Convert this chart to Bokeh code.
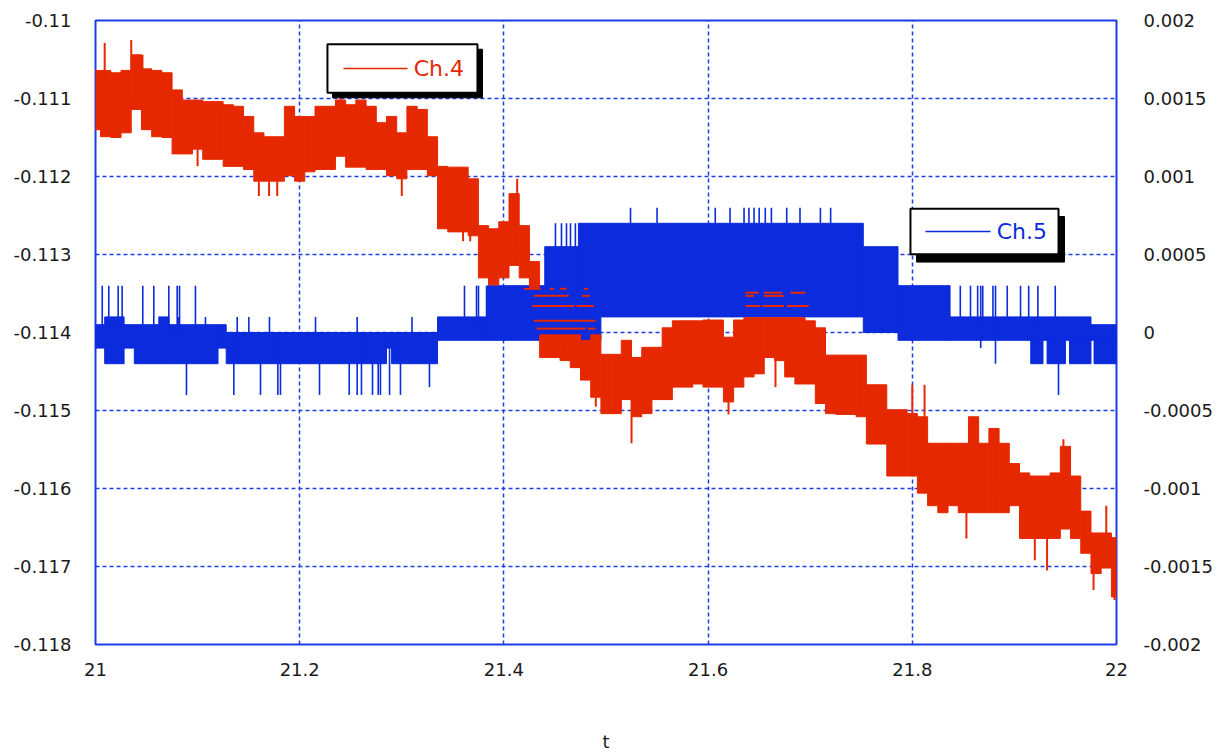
from bokeh.plotting import figure
from bokeh.models import Range1d, LinearAxis, FixedTicker
from bokeh.embed import file_html
from bokeh.resources import INLINE
from bokeh.core.properties import value

# ---------------- data ----------------
t_red = [21.00, 21.01, 21.02, 21.03, 21.04, 21.05, 21.06, 21.07, 21.08, 21.09,
         21.10, 21.11, 21.12, 21.13, 21.14, 21.15, 21.16, 21.17, 21.18, 21.19,
         21.20, 21.21, 21.22, 21.23, 21.24, 21.25, 21.26, 21.27, 21.28, 21.29,
         21.30, 21.31, 21.32, 21.33, 21.34, 21.35, 21.36, 21.37, 21.38, 21.39,
         21.40, 21.41, 21.42, 21.43, 21.44, 21.45, 21.46, 21.47, 21.48, 21.49,
         21.50, 21.51, 21.52, 21.53, 21.54, 21.55, 21.56, 21.57, 21.58, 21.59,
         21.60, 21.61, 21.62, 21.63, 21.64, 21.65, 21.66, 21.67, 21.68, 21.69,
         21.70, 21.71, 21.72, 21.73, 21.74, 21.75, 21.76, 21.77, 21.78, 21.79,
         21.80, 21.81, 21.82, 21.83, 21.84, 21.85, 21.86, 21.87, 21.88, 21.89,
         21.90, 21.91, 21.92, 21.93, 21.94, 21.95, 21.96, 21.97, 21.98, 21.99,
         22.00]

ch4_hi = [-0.11064, -0.11064, -0.11067, -0.11064, -0.11044, -0.11062, -0.11064, -0.11067, -0.11089, -0.11102,
          -0.11102, -0.11104, -0.11104, -0.11108, -0.11110, -0.11123, -0.11144, -0.11149, -0.11149, -0.11110,
          -0.11123, -0.11123, -0.11110, -0.11110, -0.11102, -0.11108, -0.11102, -0.11110, -0.11131, -0.11123,
          -0.11144, -0.11110, -0.11114, -0.11149, -0.11187, -0.11188, -0.11188, -0.11203, -0.11263, -0.11267,
          -0.11258, -0.11222, -0.11263, -0.11309, -0.11403, -0.11403, -0.11403, -0.11403, -0.11410, -0.11403,
          -0.11428, -0.11428, -0.11410, -0.11432, -0.11419, -0.11419, -0.11394, -0.11385, -0.11385, -0.11385,
          -0.11384, -0.11384, -0.11406, -0.11384, -0.11381, -0.11381, -0.11381, -0.11381, -0.11381, -0.11381,
          -0.11385, -0.11394, -0.11429, -0.11429, -0.11429, -0.11429, -0.11467, -0.11467, -0.11499, -0.11499,
          -0.11504, -0.11508, -0.11542, -0.11542, -0.11542, -0.11542, -0.11508, -0.11542, -0.11523, -0.11542,
          -0.11568, -0.11580, -0.11584, -0.11584, -0.11580, -0.11546, -0.11584, -0.11629, -0.11657, -0.11657,
          -0.11663]

ch4_lo = [-0.11140, -0.11149, -0.11150, -0.11144, -0.11114, -0.11140, -0.11149, -0.11150, -0.11171, -0.11171,
          -0.11165, -0.11178, -0.11178, -0.11187, -0.11187, -0.11191, -0.11206, -0.11206, -0.11206, -0.11199,
          -0.11206, -0.11194, -0.11191, -0.11191, -0.11174, -0.11188, -0.11188, -0.11191, -0.11191, -0.11199,
          -0.11203, -0.11191, -0.11191, -0.11199, -0.11267, -0.11271, -0.11271, -0.11276, -0.11330, -0.11339,
          -0.11330, -0.11314, -0.11330, -0.11342, -0.11432, -0.11432, -0.11436, -0.11445, -0.11461, -0.11483,
          -0.11504, -0.11504, -0.11486, -0.11508, -0.11504, -0.11486, -0.11486, -0.11470, -0.11470, -0.11466,
          -0.11470, -0.11470, -0.11489, -0.11470, -0.11457, -0.11453, -0.11432, -0.11436, -0.11457, -0.11466,
          -0.11466, -0.11491, -0.11504, -0.11505, -0.11505, -0.11508, -0.11543, -0.11543, -0.11584, -0.11584,
          -0.11584, -0.11606, -0.11622, -0.11631, -0.11622, -0.11631, -0.11631, -0.11631, -0.11631, -0.11631,
          -0.11622, -0.11664, -0.11664, -0.11664, -0.11664, -0.11652, -0.11664, -0.11683, -0.11709, -0.11702,
          -0.11739]

# Ch.4 isolated spikes: time, start value, end value
ch4_spike_t = [21.009, 21.035, 21.041, 21.046, 21.240, 21.413, 21.800, 21.812, 21.948, 21.990,
               21.100, 21.160, 21.170, 21.178, 21.300, 21.360, 21.367, 21.490, 21.525, 21.620,
               21.666, 21.853, 21.920, 21.932, 21.9775, 21.998]
ch4_spike_from = [-0.11064, -0.11064, -0.11064, -0.11064, -0.11110, -0.11250, -0.11504, -0.11508, -0.11560, -0.11657,
                  -0.11165, -0.11206, -0.11206, -0.11206, -0.11203, -0.11271, -0.11271, -0.11483, -0.11486, -0.11489,
                  -0.11432, -0.11631, -0.11664, -0.11664, -0.11700, -0.11730]
ch4_spike_to = [-0.11029, -0.11025, -0.11044, -0.11044, -0.11099, -0.11203, -0.11467, -0.11467, -0.11537, -0.11622,
                -0.11187, -0.11225, -0.11225, -0.11225, -0.11225, -0.11283, -0.11283, -0.11495, -0.11542, -0.11505,
                -0.11470, -0.11664, -0.11692, -0.11705, -0.11730, -0.11743]

# Ch.4 short horizontal strokes over Ch.5 band
ch4_dash_t0 = [21.4195, 21.4450, 21.4548, 21.4783, 21.4293, 21.4767, 21.4277, 21.4711, 21.4293, 21.4319, 21.4587, 21.4822,
               21.6366, 21.6546, 21.6807, 21.6366, 21.6546, 21.6366, 21.6530, 21.6768]
ch4_dash_t1 = [21.4359, 21.4489, 21.4613, 21.4822, 21.4636, 21.4841, 21.4692, 21.4881, 21.4897, 21.4587, 21.4799, 21.4897,
               21.6497, 21.6726, 21.6954, 21.6448, 21.6742, 21.6513, 21.6742, 21.6986]
ch4_dash_v = [-0.11344, -0.11344, -0.11344, -0.11344, -0.11353, -0.11353, -0.11366, -0.11366, -0.11385, -0.11395, -0.11395, -0.11395,
              -0.11349, -0.11349, -0.11349, -0.11353, -0.11353, -0.11366, -0.11366, -0.11366]

# Ch.5 quantised band pieces: start, end, upper level, lower level
ch5_t0 = [21.000, 21.009, 21.028, 21.038, 21.062, 21.072, 21.120, 21.128, 21.285, 21.290, 21.335, 21.384,
          21.440, 21.473, 21.495, 21.752, 21.786, 21.837, 21.975,
          21.916, 21.932, 21.954, 21.978]
ch5_t1 = [21.009, 21.028, 21.038, 21.062, 21.072, 21.120, 21.128, 21.285, 21.290, 21.335, 21.384, 21.440,
          21.473, 21.495, 21.752, 21.786, 21.837, 21.975, 22.000,
          21.928, 21.950, 21.975, 22.000]
ch5_hi = [0.00005, 0.0001, 0.00005, 0.00005, 0.0001, 0.00005, 0.00005, 0.0, 0.0, 0.0, 0.0001, 0.0003,
          0.00055, 0.0007, 0.0007, 0.00055, 0.0003, 0.0001, 0.00005,
          -0.00005, -0.00005, -0.00005, -0.00005]
ch5_lo = [-0.0001, -0.0002, -0.0001, -0.0002, -0.0002, -0.0002, -0.0001, -0.0002, -0.0001, -0.0002, -0.00005, -0.00005,
          -0.00005, -0.00005, 0.0001, 0.0, -0.00005, -0.00005, -0.00005,
          -0.0002, -0.0002, -0.0002, -0.0002]

# Ch.5 isolated spikes: time, start level, end level
ch5_spike_t = [21.0066, 21.0130, 21.0222, 21.0261, 21.0463, 21.0571, 21.0718, 21.0800, 21.0823, 21.0979,
               21.3614, 21.3732, 21.3751, 21.3830,
               21.847, 21.857, 21.864, 21.869, 21.879, 21.893, 21.906, 21.914, 21.923, 21.940,
               21.0816, 21.1077, 21.1388, 21.1502, 21.1704, 21.2155, 21.2563, 21.3100,
               21.0891, 21.1355, 21.1616, 21.1786, 21.1812, 21.2194, 21.2485, 21.2563, 21.2605, 21.2713,
               21.2769, 21.2791, 21.2880, 21.2987, 21.3271, 21.9432, 21.8815, 21.867,
               21.4505, 21.4564, 21.4613, 21.4652, 21.4700, 21.775, 21.779,
               21.5240, 21.5500, 21.6070, 21.6215, 21.6352, 21.6400, 21.6450, 21.6500, 21.6560, 21.6620,
               21.6770, 21.6900, 21.7100, 21.7200, 21.7300, 21.7450]
ch5_spike_from = [0.0] * 10 + [0.0] * 4 + [0.0] * 10 + [0.0] * 8 + [0.0] * 16 + [0.0003] * 7 + [0.0007] * 16
ch5_spike_to = [0.0003] * 10 + [0.0003] * 4 + [0.0003] * 10 + [0.0001] * 8 + \
               [-0.0004] * 14 + [-0.00035, -0.0004, -0.0002, -0.0001] + [0.0007] * 7 + [0.0008] * 16

# axes
x_ticks = [21.0, 21.2, 21.4, 21.6, 21.8, 22.0]
x_labels = ["21", "21.2", "21.4", "21.6", "21.8", "22"]
yl_ticks = [-0.118, -0.117, -0.116, -0.115, -0.114, -0.113, -0.112, -0.111, -0.110]
yl_labels = ["-0.118", "-0.117", "-0.116", "-0.115", "-0.114", "-0.113", "-0.112", "-0.111", "-0.11"]
yr_ticks = [-0.002, -0.0015, -0.001, -0.0005, 0.0, 0.0005, 0.001, 0.0015, 0.002]
yr_labels = ["-0.002", "-0.0015", "-0.001", "-0.0005", "0", "0.0005", "0.001", "0.0015", "0.002"]

RED = "#e62800"
BLUE = "#0b2bdc"
FRAME = "#1c3ce6"
FONT = "DejaVu Sans"

# ---------------- figure ----------------
p = figure(width=1218, height=754, output_backend="svg", toolbar_location=None,
           x_range=Range1d(21.0, 22.0), y_range=Range1d(-0.118, -0.110),
           min_border_left=95, min_border_right=102, min_border_top=20, min_border_bottom=104)
p.extra_y_ranges = {"ch5": Range1d(-0.002, 0.002)}
p.background_fill_color = "white"
p.border_fill_color = "white"
p.outline_line_color = FRAME
p.outline_line_width = 2

def style_axis(ax, ticks, labels, standoff):
    ax.ticker = FixedTicker(ticks=ticks)
    ax.major_label_overrides = {tk: lb for tk, lb in zip(ticks, labels)}
    ax.major_tick_in = 0
    ax.major_tick_out = 0
    ax.minor_tick_line_color = None
    ax.axis_line_color = None
    ax.major_label_text_font = FONT
    ax.major_label_text_font_size = "18px"
    ax.major_label_text_color = "#1a1a1a"
    ax.major_label_standoff = standoff

style_axis(p.xaxis[0], x_ticks, x_labels, 18)
style_axis(p.yaxis[0], yl_ticks, yl_labels, 24)
p.xaxis[0].axis_label = "t"
p.xaxis[0].axis_label_text_font = FONT
p.xaxis[0].axis_label_text_font_style = "normal"
p.xaxis[0].axis_label_text_font_size = "18px"
p.xaxis[0].axis_label_text_color = "#1a1a1a"
p.xaxis[0].axis_label_standoff = 52

right = LinearAxis(y_range_name="ch5")
style_axis(right, yr_ticks, yr_labels, 27)
p.add_layout(right, "right")

for g in (p.xgrid[0], p.ygrid[0]):
    g.grid_line_color = FRAME
    g.grid_line_width = 1.5
    g.grid_line_dash = "4 3"
p.xgrid[0].ticker = FixedTicker(ticks=x_ticks)
p.ygrid[0].ticker = FixedTicker(ticks=yl_ticks)

# Ch.5 (blue) first
p.quad(left=ch5_t0, right=ch5_t1, top=ch5_hi, bottom=ch5_lo, y_range_name="ch5",
       fill_color=BLUE, line_color=BLUE, line_width=1)
p.segment(x0=ch5_spike_t, y0=ch5_spike_from, x1=ch5_spike_t, y1=ch5_spike_to,
          y_range_name="ch5", line_color=BLUE, line_width=1.6)

# Ch.4 (red): each reading drawn as a block spanning half a step on each side
half = 0.005
p.quad(left=[t - half for t in t_red], right=[t + half for t in t_red],
       top=ch4_hi, bottom=ch4_lo, fill_color=RED, line_color=RED, line_width=1)
p.segment(x0=ch4_spike_t, y0=ch4_spike_from, x1=ch4_spike_t, y1=ch4_spike_to,
          line_color=RED, line_width=2)
p.segment(x0=ch4_dash_t0, y0=ch4_dash_v, x1=ch4_dash_t1, y1=ch4_dash_v,
          line_color=RED, line_width=2)

# ---------------- legend boxes (drawn in data space) ----------------
def legend_box(l, r, top, bot, dx, dy, line_l, line_r, label, color):
    p.quad(left=[l + dx], right=[r + dx], top=[top - dy], bottom=[bot - dy],
           fill_color="black", line_color="black")
    p.quad(left=[l], right=[r], top=[top], bottom=[bot],
           fill_color="white", line_color="black", line_width=2)
    ym = (top + bot) / 2
    p.segment(x0=[line_l], y0=[ym], x1=[line_r], y1=[ym], line_color=color, line_width=1.6)
    p.text(x=[line_r + 0.006], y=[ym], text=[label], text_color=color,
           text_font=value(FONT), text_font_size="22px", text_baseline="middle", text_align="left")

legend_box(21.2272, 21.3741, -0.110305, -0.110927, 0.0049, 0.0000635, 21.2429, 21.3056, "Ch.4", RED)
legend_box(21.7982, 21.9432, -0.112413, -0.112997, 0.0059, 0.0001000, 21.8129, 21.8766, "Ch.5", BLUE)

open("out.html", "w").write(file_html(p, INLINE))
